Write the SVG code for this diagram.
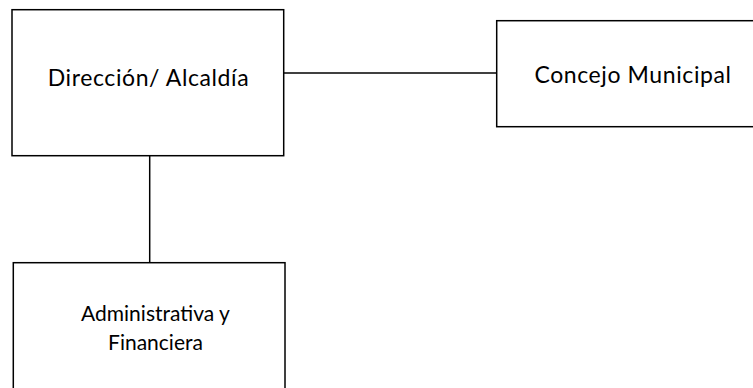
<svg xmlns="http://www.w3.org/2000/svg" width="753" height="388" viewBox="0 0 753 388">
<style>
.box{fill:#fff;stroke:#000;stroke-width:1.5}
.lbl{font-family:"Lato","Liberation Sans",sans-serif;fill:#000;text-anchor:middle}
.big{font-size:23px;letter-spacing:0.6px}
.sm{font-size:21px}
.con{stroke:#000;stroke-width:1.5;fill:none}
</style>
<rect width="753" height="388" fill="#fff"/>
<g id="connectors">
<line class="con" x1="284" y1="73" x2="497" y2="73"/>
<line class="con" x1="149.7" y1="156" x2="149.7" y2="263"/>
</g>
<g id="direccion">
<rect class="box" x="12" y="9.7" width="271.7" height="146"/>
<text class="lbl big" x="148.5" y="86">Dirección/ Alcaldía</text>
</g>
<g id="concejo">
<rect class="box" x="496.7" y="20.7" width="262" height="106"/>
<text class="lbl big" x="633" y="83">Concejo Municipal</text>
</g>
<g id="administrativa">
<rect class="box" x="13.3" y="262.7" width="271.7" height="140"/>
<text class="lbl sm" x="155.5" y="321">Administrativa y</text>
<text class="lbl sm" x="155.5" y="350">Financiera</text>
</g>
</svg>
